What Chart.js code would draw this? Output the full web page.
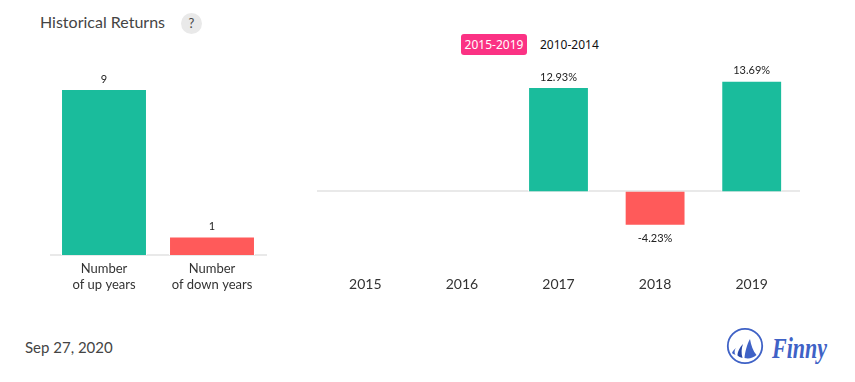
<!DOCTYPE html>
<html>
<head>
<meta charset="utf-8">
<script src="https://cdn.jsdelivr.net/npm/chart.js@4"></script>
<style>
html,body{margin:0;padding:0;background:#fff;width:855px;height:382px;overflow:hidden;font-family:Lato,sans-serif}
#wrap{position:relative;width:855px;height:382px}
#wrap>*{position:absolute}
#title{left:40px;top:12px;font-size:16px;line-height:20px;color:#444}
#help{left:181px;top:13px;width:21px;height:21px;border-radius:50%;background:#e9e9e9;color:#444;font-size:13px;line-height:21px;text-align:center}
#on{left:461px;top:34px;width:66px;height:21px;border-radius:3px;background:#fb3284;color:#fff;font:12px/21px "Noto Sans",sans-serif;text-align:center}
#off{left:540px;top:34px;font:12px/21px "Noto Sans",sans-serif;color:#111}
#date{left:25px;top:337px;font-size:15px;line-height:20px;color:#444}
#logo{left:726px;top:327px}
#brand{left:772px;top:331px;font:italic bold 29px/34px "Liberation Serif",serif;color:#3f62c6;transform:scaleX(.76);transform-origin:0 0}
#c1{left:50px;top:60px}
#c2{left:317px;top:60px}
</style>
</head>
<body>
<div id="wrap">
<div id="title">Historical Returns</div>
<div id="help">?</div>
<div id="on">2015-2019</div>
<div id="off">2010-2014</div>
<canvas id="c1" width="217" height="240" style="width:217px;height:240px"></canvas>
<canvas id="c2" width="483" height="240" style="width:483px;height:240px"></canvas>
<div id="date">Sep 27, 2020</div>
<svg id="logo" width="40" height="40" viewBox="0 0 40 40">
<circle cx="19" cy="19" r="17.2" fill="none" stroke="#3f62c6" stroke-width="1.8"/>
<path d="M24 12 C25 18 27 24 30.5 28 C27 31 23 32 18.5 31 C19 25 21 17 24 12Z" fill="#3f62c6"/>
<path d="M17 17 C15.5 21 15 26 16.5 31 C14.5 30.5 12.5 29.5 11.5 28.5 C11.5 24.5 14 20 17 17Z" fill="#2a49a8"/>
<path d="M10 21 C8.5 23 8 25.5 9.5 28 C8.5 27.5 7 27 6 26 C6.5 24.5 8 22.5 10 21Z" fill="#3f62c6"/>
</svg>
<div id="brand">Finny</div>
</div>
<script>
const upDownLabels = [["Number","of up years"],["Number","of down years"]];
const upDownValues = [9, 1];
const upDownColours = ["#1abc9c", "#ff5a5a"];
const years = ["2015","2016","2017","2018","2019"];
const returns = [null, null, 12.93, -4.23, 13.69];
const returnLabels = [null, null, "12.93%", "-4.23%", "13.69%"];

const TEAL = "#1abc9c", RED = "#ff5a5a", AXIS = "#e9e9e9";
const returnColours = returns.map(v => v < 0 ? RED : TEAL);

function marksPlugin(getText){
  return {
    id:"marks",
    beforeDatasetsDraw(chart){
      const {ctx, chartArea:a, scales:{y}} = chart;
      const p = Math.floor(y.getPixelForValue(0));
      ctx.save();
      ctx.strokeStyle = AXIS; ctx.lineWidth = 2;
      ctx.beginPath(); ctx.moveTo(a.left,p); ctx.lineTo(chart.width,p); ctx.stroke();
      ctx.restore();
    },
    afterDatasetsDraw(chart){
      const {ctx} = chart;
      const vals = chart.data.datasets[0].data;
      ctx.save();
      ctx.font = "11px Lato"; ctx.fillStyle = "#222"; ctx.textAlign = "center"; ctx.textBaseline = "middle";
      chart.getDatasetMeta(0).data.forEach((el,i)=>{
        const t = getText(i);
        if(t===null || vals[i]===null) return;
        ctx.fillText(t, el.x, vals[i] < 0 ? el.y + 13 : el.y - 10);
      });
      ctx.restore();
    }
  };
}

function makeChart(id, labels, values, colours, pct, min, max, xHeight, pad, textFn, fontSize, lh, rightPad){
  return new Chart(document.getElementById(id),{
    type:"bar",
    data:{labels, datasets:[{data:values, backgroundColor:colours,
      borderColor:"#fff", borderWidth:1, barPercentage:pct, categoryPercentage:1}]},
    options:{
      responsive:false, animation:false, devicePixelRatio:1,
      layout:{padding:{right:rightPad}},
      plugins:{legend:{display:false}, tooltip:{enabled:false}},
      scales:{
        x:{grid:{display:false}, border:{display:false},
           afterFit(s){ s.height = xHeight; },
           ticks:{color:"#333", font:{family:"Lato",size:fontSize,lineHeight:lh}, padding:pad, maxRotation:0, autoSkip:false}},
        y:{display:false, min, max}
      }
    },
    plugins:[marksPlugin(textFn)]
  });
}
makeChart("c1", upDownLabels, upDownValues, upDownColours, 0.796, 0, 10.57, 45, -2, i=>String(upDownValues[i]), 13, 1.2, 1);
makeChart("c2", years, returns, returnColours, 0.63, -9.715, 16.27, 30, -2, i=>returnLabels[i], 14, 1.2, 0);
</script>
</body>
</html>
